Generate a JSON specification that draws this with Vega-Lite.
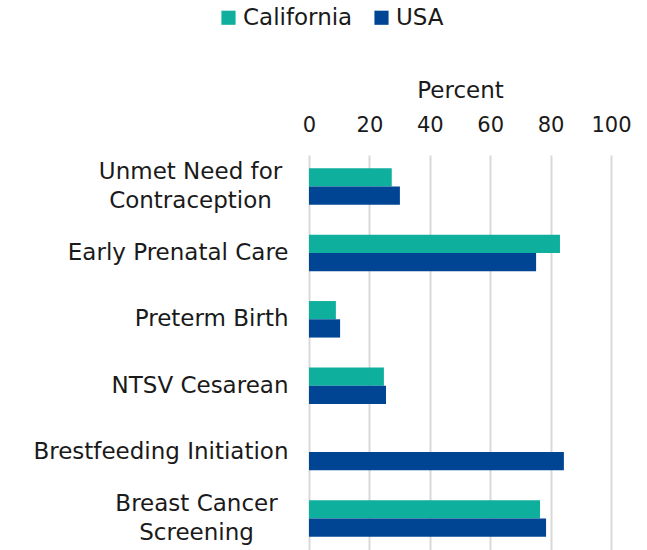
{
  "$schema": "https://vega.github.io/schema/vega-lite/v6.json",
  "autosize": {"type": "none"},
  "width": 302,
  "height": 395,
  "padding": {"left": 309, "top": 155, "right": 36, "bottom": 0},
  "background": "white",
  "config": {
    "view": {"stroke": null},
    "font": "DejaVu Sans",
    "axis": {"labelFont": "DejaVu Sans", "titleFont": "DejaVu Sans", "labelColor": "#1a1a1a", "titleColor": "#1a1a1a"},
    "legend": {"labelFont": "DejaVu Sans", "labelColor": "#1a1a1a"}
  },
  "data": {
    "values": [
      {"measure": "Unmet Need for|Contraception", "region": "California", "value": 27.4},
      {"measure": "Unmet Need for|Contraception", "region": "USA", "value": 30.1},
      {"measure": "Early Prenatal Care", "region": "California", "value": 83.1},
      {"measure": "Early Prenatal Care", "region": "USA", "value": 75.2},
      {"measure": "Preterm Birth", "region": "California", "value": 8.9},
      {"measure": "Preterm Birth", "region": "USA", "value": 10.3},
      {"measure": "NTSV Cesarean", "region": "California", "value": 24.8},
      {"measure": "NTSV Cesarean", "region": "USA", "value": 25.5},
      {"measure": "Brestfeeding Initiation", "region": "USA", "value": 84.4},
      {"measure": "Breast Cancer|Screening", "region": "California", "value": 76.5},
      {"measure": "Breast Cancer|Screening", "region": "USA", "value": 78.5}
    ]
  },
  "mark": {"type": "bar"},
  "encoding": {
    "y": {
      "field": "measure",
      "type": "nominal",
      "sort": null,
      "scale": {"paddingInner": 0.45},
      "axis": {
        "title": null,
        "labelExpr": "split(datum.label, '|')",
        "labelFontSize": 23,
        "labelPadding": {"condition": [
          {"test": "datum.value === 'Unmet Need for|Contraception'", "value": 119},
          {"test": "datum.value === 'Breast Cancer|Screening'", "value": 113}
        ], "value": 21},
        "labelAlign": {"condition": {"test": "indexof(datum.value, '|') >= 0", "value": "center"}, "value": "right"},
        "labelLimit": 400,
        "labelOffset": {"condition": {"test": "indexof(datum.value, '|') >= 0", "value": -14.5}, "value": 0},
        "ticks": false,
        "domain": false,
        "labelLineHeight": 29
      }
    },
    "yOffset": {"field": "region", "type": "nominal", "scale": {"domain": ["California", "USA"]}},
    "x": {
      "field": "value",
      "type": "quantitative",
      "scale": {"domain": [0, 100]},
      "axis": {
        "orient": "top",
        "title": "Percent",
        "titleFontSize": 23,
        "titleFontWeight": "normal",
        "titlePadding": 12,
        "labelFontSize": 21,
        "labelFlush": false,
        "values": [0, 20, 40, 60, 80, 100],
        "ticks": false,
        "domain": false,
        "labelPadding": 20,
        "grid": true,
        "gridColor": "#d9d9d9",
        "gridWidth": 2
      }
    },
    "color": {
      "field": "region",
      "type": "nominal",
      "scale": {"domain": ["California", "USA"], "range": ["#0EAF9C", "#004593"]},
      "legend": {
        "title": null,
        "orient": "none",
        "legendX": -92,
        "legendY": -149,
        "direction": "horizontal",
        "symbolType": "square",
        "symbolSize": 200,
        "labelFontSize": 23,
        "labelLimit": 300,
        "columnPadding": 17,
        "labelOffset": 3
      }
    }
  }
}
